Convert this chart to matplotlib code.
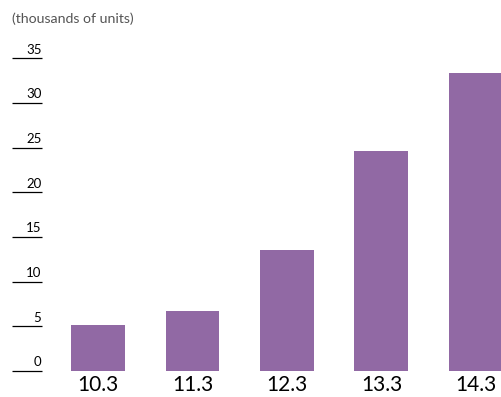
import matplotlib
matplotlib.use("Agg")
import matplotlib.pyplot as plt
import matplotlib.transforms as mtransforms

# Fiscal periods and unit shipments (thousands of units)
periods = ["10.3", "11.3", "12.3", "13.3", "14.3"]
units = [5.1, 6.7, 13.5, 24.6, 33.4]
y_ticks = [0, 5, 10, 15, 20, 25, 30, 35]
unit_label = "(thousands of units)"

bar_color = "#9169a4"
font = "Lato"

fig = plt.figure(figsize=(5.01, 3.97), dpi=100)
ax = fig.add_axes([0, 0, 1, 1])
ax.set_axis_off()

x = list(range(len(periods)))
ax.bar(x, units, width=0.571, color=bar_color, linewidth=0)
ax.set_xlim(-1.037, 4.265)
ax.set_ylim(-2.91, 41.55)

# Short tick rules on the left, with labels sitting just above each rule
blend = mtransforms.blended_transform_factory(ax.transAxes, ax.transData)
for v in y_ticks:
    ax.plot([12 / 501, 42 / 501], [v, v], transform=blend, color="black",
            linewidth=0.9, solid_capstyle="butt", clip_on=False)
    ax.text(41.5 / 501, v + 0.3, str(v), transform=blend, ha="right",
            va="bottom", fontsize=9.5, family=font, color="black")

# Period labels under each bar
for xi, p in zip(x, periods):
    ax.text(xi, -1.55, p, ha="center", va="center", fontsize=15,
            family=font, color="black")

fig.text(12 / 501, 1 - 19 / 397, unit_label, ha="left", va="center",
         fontsize=10.2, family=font, color="#555555")

fig.savefig("out.png", dpi=100)
